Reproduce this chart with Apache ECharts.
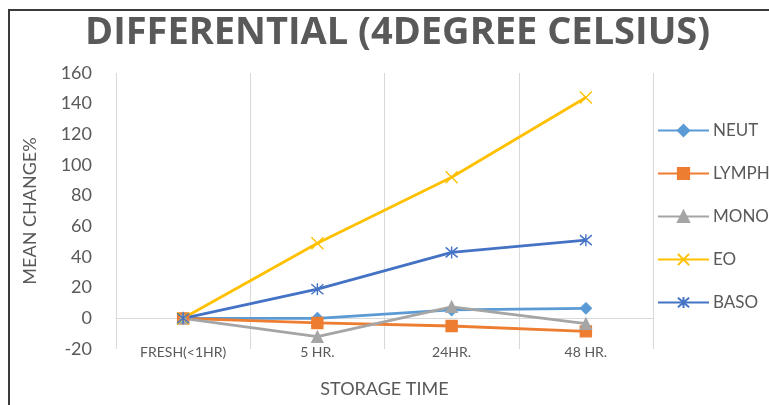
<!DOCTYPE html>
<html>
<head>
<meta charset="utf-8">
<script src="https://cdn.jsdelivr.net/npm/echarts@6/dist/echarts.min.js"></script>
<style>
  html, body { margin: 0; padding: 0; background: #fff; }
  #line { width: 769px; height: 405px; }
</style>
</head>
<body>
<div id="line"></div>
<script>
'use strict'
var categories = ['FRESH(<1HR)', '5 HR.', '24HR.', '48 HR.'];
var yTicks = [-20, 0, 20, 40, 60, 80, 100, 120, 140, 160];
var neut = [0, 0, 5.5, 6.5];
var lymph = [0, -3, -5, -8.5];
var mono = [0, -12, 7.5, -3.5];
var eo = [0, 49, 92, 144];
var baso = [0, 19, 43, 51];

var textColor = '#595959';
var gridColor = '#d9d9d9';
var font = 'Lato, "Open Sans", sans-serif';

var xMark = 'path://M0,0 L10,10 M10,0 L0,10';
var starMark = 'path://M0,0 L10,10 M10,0 L0,10 M5,-1 L5,11';

function mkSeries(name, data, color, symbol, size) {
    return {
        name: name,
        type: 'line',
        data: data,
        symbol: symbol,
        symbolSize: size,
        lineStyle: { color: color, width: 2.8 },
        itemStyle: { color: color, borderColor: color, borderWidth: 1.4 }
    };
}

var chart = echarts.init(document.getElementById('line'));
var option = {
    animation: false,
    title: {
        text: 'DIFFERENTIAL (4DEGREE CELSIUS)',
        left: 80,
        top: 9,
        textStyle: { color: textColor, fontSize: 38, fontWeight: 'bold', fontFamily: '"Open Sans", Lato, sans-serif' }
    },
    graphic: [{
        type: 'rect',
        shape: { x: 9, y: 10, width: 800, height: 420 },
        style: { fill: 'none', stroke: '#3a3a3a', lineWidth: 2 },
        silent: true
    }],
    legend: {
        orient: 'vertical',
        left: 657,
        top: 122,
        padding: 0,
        itemWidth: 51,
        itemHeight: 14,
        itemGap: 26,
        textStyle: { color: textColor, fontSize: 17, fontFamily: font, padding: [0, 0, 0, -1] }
    },
    grid: { left: 116, right: 116, top: 73, bottom: 56 },
    xAxis: [{
        type: 'category',
        data: categories,
        name: 'STORAGE TIME',
        nameLocation: 'middle',
        nameGap: 31,
        nameTextStyle: { color: textColor, fontSize: 18, fontFamily: font },
        axisLine: { show: false, onZero: false },
        axisTick: { show: false },
        axisLabel: { color: textColor, fontSize: 14, fontFamily: font, margin: -4 },
        splitLine: { show: true, lineStyle: { color: gridColor, width: 1 } }
    }, {
        type: 'category',
        data: categories,
        position: 'top',
        axisLine: { show: true, onZero: true, lineStyle: { color: gridColor, width: 1 } },
        axisTick: { show: false },
        axisLabel: { show: false },
        splitLine: { show: false }
    }],
    yAxis: {
        type: 'value',
        min: yTicks[0],
        max: yTicks[yTicks.length - 1],
        interval: 20,
        name: 'MEAN CHANGE%',
        nameLocation: 'middle',
        nameGap: 77,
        nameTextStyle: { color: textColor, fontSize: 18, fontFamily: font },
        axisLine: { show: false },
        axisTick: { show: false },
        axisLabel: { color: textColor, fontSize: 18, fontFamily: font, margin: 24 },
        splitLine: { show: false }
    },
    series: [
        mkSeries('NEUT', neut, '#5B9BD5', 'diamond', 11),
        mkSeries('LYMPH', lymph, '#ED7D31', 'rect', 11),
        mkSeries('MONO', mono, '#A5A5A5', 'triangle', 11),
        mkSeries('EO', eo, '#FFC000', xMark, 12),
        mkSeries('BASO', baso, '#4472C4', starMark, 12)
    ]
};
chart.setOption(option);
</script>
</body>
</html>
